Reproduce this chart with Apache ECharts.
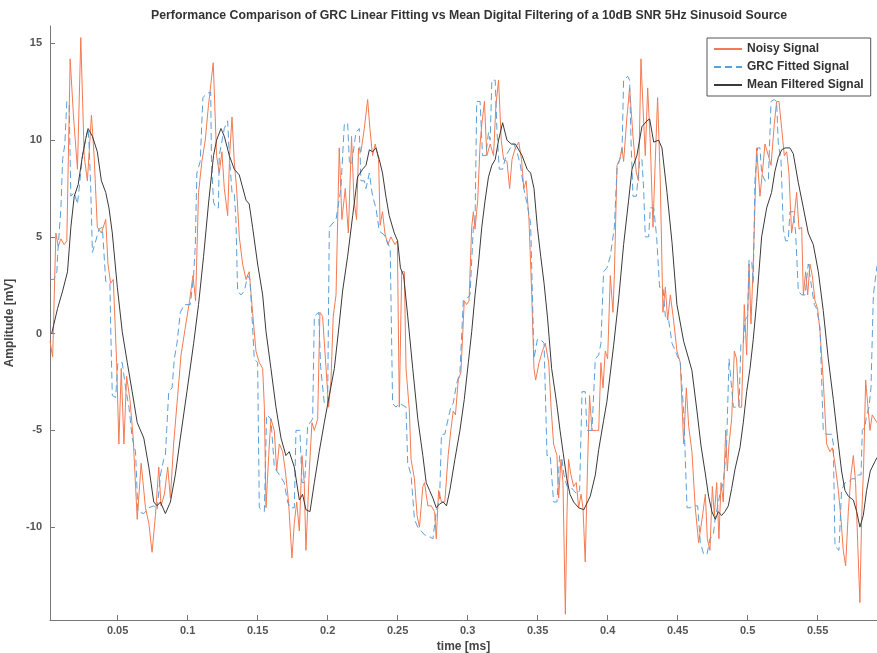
<!DOCTYPE html>
<html>
<head>
<meta charset="utf-8">
<title>GRC Linear Fitting vs Mean Digital Filtering</title>
<script src="https://cdn.jsdelivr.net/npm/echarts@6/dist/echarts.min.js"></script>
<style>
  html, body { margin: 0; padding: 0; background: #fff; }
  #main { width: 877px; height: 653px; }
</style>
</head>
<body>
<div id="main"></div>
<script>
// values: [time in ms, amplitude in mV]
const noisySignal = [
  [0.0017,-0.4],[0.0036,-1.2],[0.0059,5.2],[0.0076,4.5],[0.0095,4.9],[0.0118,4.6],[0.0137,4.8],[0.0161,14.2],
  [0.0185,11.2],[0.0213,8.5],[0.0237,15.3],[0.0261,9.2],[0.0284,7.9],[0.0313,11.3],[0.0332,9.2],[0.0355,5.5],
  [0.0384,5.2],[0.0415,5.9],[0.0431,3.6],[0.045,2.6],[0.0469,2.8],[0.0493,-1.5],[0.0509,-5.7],[0.0526,-1.8],
  [0.0545,-5.7],[0.0564,-2.2],[0.0588,-3.4],[0.0611,-5.4],[0.064,-9.6],[0.0668,-6.7],[0.0699,-9.0],[0.0723,-9.8],
  [0.0746,-11.3],[0.077,-9.4],[0.0794,-6.9],[0.081,-8.9],[0.0834,-8.3],[0.0858,-6.9],[0.0877,-8.5],[0.09,-5.7],
  [0.0929,-3.2],[0.0953,-1.1],[0.0983,0.3],[0.1014,1.7],[0.1038,3.0],[0.1057,1.7],[0.1078,7.3],[0.1102,8.9],
  [0.1126,10.0],[0.1149,11.8],[0.1183,14.0],[0.1207,9.2],[0.1226,8.3],[0.1245,9.4],[0.1262,7.5],[0.1286,6.1],
  [0.13,9.2],[0.1317,11.2],[0.1333,8.9],[0.135,7.5],[0.1369,5.0],[0.1393,3.6],[0.1417,2.8],[0.144,3.2],
  [0.1464,1.1],[0.1488,-0.9],[0.1512,-1.5],[0.1536,-1.8],[0.1548,-3.8],[0.156,-9.0],[0.1579,-6.3],[0.1595,-4.4],
  [0.1619,-5.0],[0.1636,-7.1],[0.1655,-5.7],[0.1679,-6.1],[0.1698,-7.1],[0.1721,-8.7],[0.1745,-11.6],[0.1762,-9.8],
  [0.1779,-8.7],[0.1798,-10.2],[0.1817,-6.3],[0.1833,-7.7],[0.1845,-11.2],[0.1869,-7.1],[0.1888,-4.6],[0.1905,-5.0],
  [0.1929,-4.4],[0.1945,1.1],[0.1964,0.9],[0.1988,-1.7],[0.2007,-3.8],[0.2024,-2.4],[0.204,0.9],[0.206,2.0],
  [0.2083,9.6],[0.2102,5.9],[0.2126,7.5],[0.2148,5.2],[0.2171,10.2],[0.2188,6.9],[0.2207,5.9],[0.2221,9.6],
  [0.2238,9.4],[0.2262,10.6],[0.2286,12.1],[0.2302,10.6],[0.2321,9.2],[0.234,9.8],[0.2364,9.0],[0.2375,5.6],
  [0.2392,6.3],[0.2409,5.2],[0.243,4.6],[0.2452,5.0],[0.2481,4.6],[0.2498,4.8],[0.2512,-3.8],[0.2529,3.2],
  [0.2548,3.2],[0.256,-1.8],[0.2584,-4.0],[0.2596,-6.5],[0.262,-7.5],[0.2639,-9.4],[0.2656,-10.0],[0.268,-7.9],
  [0.2692,-7.7],[0.2716,-8.9],[0.274,-8.9],[0.2764,-9.2],[0.2776,-10.6],[0.2793,-8.1],[0.2813,-8.7],[0.2837,-8.7],
  [0.2861,-6.3],[0.288,-5.0],[0.2897,-4.0],[0.2913,-4.2],[0.2933,-2.4],[0.2952,-2.0],[0.2976,1.7],[0.2993,1.5],
  [0.301,1.7],[0.3029,5.5],[0.3041,6.3],[0.3053,5.4],[0.3072,6.9],[0.3089,9.8],[0.3101,10.8],[0.312,12.0],
  [0.3137,9.2],[0.3161,9.8],[0.3185,9.2],[0.3202,11.8],[0.3221,13.1],[0.324,10.0],[0.3257,9.0],[0.3281,8.9],
  [0.33,7.5],[0.3317,9.0],[0.3341,9.6],[0.3365,9.9],[0.3385,9.0],[0.3401,7.5],[0.3418,7.9],[0.3438,5.9],
  [0.3457,2.2],[0.3474,-1.8],[0.3486,-2.4],[0.351,-1.5],[0.3534,-0.9],[0.3555,-0.5],[0.3579,-1.5],[0.3596,-3.8],
  [0.3614,-5.7],[0.3638,-6.3],[0.365,-8.5],[0.3667,-6.5],[0.3681,-7.7],[0.3698,-14.5],[0.371,-9.2],[0.3721,-6.5],
  [0.3738,-7.3],[0.3757,-7.9],[0.3776,-7.7],[0.3793,-9.0],[0.381,-8.3],[0.3824,-9.0],[0.384,-11.8],[0.3857,-6.7],
  [0.3871,-3.2],[0.3888,-5.0],[0.39,-5.0],[0.3919,-5.0],[0.3936,-5.0],[0.3952,-1.5],[0.3967,-2.8],[0.3983,-0.9],
  [0.4,-1.3],[0.4019,3.0],[0.4038,1.1],[0.4048,3.0],[0.4067,8.7],[0.4086,9.0],[0.4102,9.6],[0.4114,8.9],
  [0.4138,11.2],[0.4157,12.7],[0.4181,10.2],[0.4205,8.3],[0.4221,7.9],[0.4238,14.2],[0.4252,11.8],[0.4269,9.2],
  [0.4286,12.7],[0.4305,9.8],[0.4324,5.5],[0.434,8.9],[0.4357,12.2],[0.4376,7.9],[0.4395,1.1],[0.4412,2.4],
  [0.4429,0.7],[0.4448,2.0],[0.4471,0.7],[0.4495,-0.9],[0.4519,-1.5],[0.4543,-5.7],[0.4562,-2.8],[0.4579,-4.8],
  [0.4602,-6.1],[0.4626,-9.0],[0.465,-10.8],[0.4674,-9.6],[0.4698,-8.3],[0.4712,-10.6],[0.4731,-11.2],[0.4748,-7.9],
  [0.4762,-9.4],[0.4779,-7.7],[0.4795,-10.6],[0.481,-7.7],[0.4826,-8.7],[0.4843,-5.0],[0.4855,-7.1],[0.4867,-5.7],
  [0.4886,-4.4],[0.4905,-0.9],[0.4921,-1.3],[0.4938,-3.8],[0.4957,-3.8],[0.4976,1.5],[0.4993,-1.1],[0.501,3.6],
  [0.5024,0.5],[0.504,3.6],[0.5064,9.6],[0.5088,7.1],[0.5105,8.3],[0.5124,9.8],[0.5148,9.2],[0.5167,8.7],
  [0.519,10.8],[0.5207,12.0],[0.5224,12.0],[0.5243,10.6],[0.5262,9.2],[0.5279,9.4],[0.5295,8.3],[0.5314,5.2],
  [0.5333,6.1],[0.535,7.3],[0.5367,5.4],[0.5386,5.5],[0.5398,2.0],[0.5414,3.2],[0.5429,2.0],[0.5445,3.6],
  [0.5462,3.0],[0.5481,1.7],[0.55,1.3],[0.5517,0.1],[0.554,-2.4],[0.5564,-5.7],[0.5588,-6.1],[0.5605,-5.9],
  [0.5624,-6.7],[0.5648,-8.1],[0.5667,-9.6],[0.5683,-11.2],[0.57,-12.0],[0.5719,-9.2],[0.5738,-7.3],[0.5755,-6.3],
  [0.5771,-7.7],[0.5786,-10.8],[0.5802,-13.9],[0.5814,-9.6],[0.5829,-6.7],[0.5843,-2.4],[0.5857,-3.6],[0.5874,-5.0],
  [0.589,-4.2],[0.5924,-4.6]
];

const grcFitted = [
  [0.0017,2.8],[0.0045,2.8],[0.0066,3.2],[0.0071,4.0],[0.0095,6.5],[0.0107,9.0],[0.0123,9.8],[0.0137,12.0],
  [0.0154,11.8],[0.0166,7.1],[0.019,7.3],[0.0213,6.7],[0.0225,7.5],[0.0249,9.2],[0.0273,10.1],[0.0289,10.6],
  [0.0296,9.8],[0.0308,7.5],[0.032,4.2],[0.0344,4.8],[0.0367,5.4],[0.0391,5.5],[0.0415,2.7],[0.0445,2.6],
  [0.045,0.5],[0.0462,-3.2],[0.0486,-3.3],[0.0502,-1.5],[0.0533,-1.5],[0.0557,-2.8],[0.0581,-3.8],[0.0604,-5.4],
  [0.0628,-6.1],[0.0645,-9.2],[0.0687,-9.3],[0.0723,-9.0],[0.0758,-8.9],[0.0782,-9.1],[0.0806,-7.3],[0.0829,-6.5],
  [0.0841,-6.3],[0.0865,-3.0],[0.0889,-2.8],[0.0905,-1.3],[0.0924,-0.5],[0.0948,1.1],[0.0976,1.5],[0.1019,1.5],
  [0.1043,3.0],[0.1055,4.6],[0.1066,8.3],[0.109,8.9],[0.1109,12.2],[0.1137,12.4],[0.1165,12.5],[0.117,9.0],
  [0.1185,6.8],[0.1202,6.5],[0.122,6.5],[0.1226,9.2],[0.1262,10.6],[0.1286,11.0],[0.1298,9.2],[0.1317,7.3],
  [0.1333,7.3],[0.1345,5.9],[0.1357,2.2],[0.1381,2.0],[0.1405,2.2],[0.1429,3.0],[0.1445,2.8],[0.146,0.9],
  [0.1476,-1.3],[0.15,-1.5],[0.1512,-9.0],[0.1548,-9.2],[0.1564,-4.2],[0.1595,-4.4],[0.1619,-6.9],[0.1655,-7.3],
  [0.169,-7.7],[0.1714,-8.7],[0.1731,-9.0],[0.1762,-9.0],[0.1774,-5.0],[0.1802,-5.0],[0.1817,-7.7],[0.1836,-7.7],
  [0.1857,-4.8],[0.1893,-4.4],[0.1905,0.9],[0.1936,1.1],[0.195,-1.7],[0.1976,-3.6],[0.2,-3.6],[0.2012,5.5],
  [0.206,5.9],[0.2095,7.5],[0.2119,10.8],[0.2143,10.9],[0.2155,8.9],[0.2171,8.7],[0.2202,10.4],[0.2226,10.6],
  [0.2238,7.9],[0.2262,7.9],[0.2274,7.5],[0.2298,8.3],[0.2321,7.1],[0.2345,6.5],[0.2369,5.3],[0.2404,5.1],
  [0.2447,4.4],[0.2464,-3.6],[0.2488,-3.8],[0.2512,-3.6],[0.256,-3.8],[0.2572,-6.7],[0.2596,-7.3],[0.262,-9.6],
  [0.2644,-10.0],[0.2668,-10.2],[0.2692,-10.4],[0.2728,-10.5],[0.2752,-10.6],[0.2776,-9.2],[0.28,-8.5],[0.2813,-5.2],
  [0.2837,-5.2],[0.2861,-4.4],[0.288,-3.8],[0.2897,-3.6],[0.2921,-2.6],[0.2945,-2.0],[0.2969,1.7],[0.2993,1.8],
  [0.3017,2.0],[0.3041,5.5],[0.3053,5.9],[0.3065,12.0],[0.3089,12.0],[0.3106,9.2],[0.313,9.2],[0.3149,10.4],
  [0.3161,10.0],[0.3173,13.1],[0.3197,13.1],[0.321,10.4],[0.3226,8.5],[0.325,8.5],[0.3274,9.2],[0.3305,9.6],
  [0.3329,9.8],[0.3353,9.4],[0.3377,8.7],[0.3401,7.5],[0.3425,6.7],[0.345,5.7],[0.3474,-1.3],[0.3498,-0.3],
  [0.3522,-0.3],[0.3546,-0.5],[0.3567,-6.3],[0.359,-6.3],[0.3614,-8.7],[0.3638,-8.7],[0.3657,-6.3],[0.3674,-6.5],
  [0.3688,-7.3],[0.371,-7.9],[0.3733,-7.9],[0.3757,-8.1],[0.3781,-8.3],[0.38,-8.1],[0.3817,-3.0],[0.384,-3.0],
  [0.3852,-5.0],[0.3888,-5.0],[0.3912,-1.3],[0.3936,-1.1],[0.3952,-0.5],[0.3971,3.2],[0.3995,3.4],[0.4019,4.0],
  [0.4048,5.5],[0.4067,8.5],[0.4086,9.0],[0.4102,9.2],[0.4114,13.1],[0.4143,13.3],[0.4157,13.1],[0.4167,10.0],
  [0.4181,7.1],[0.4205,7.1],[0.4229,9.0],[0.4245,9.0],[0.4257,7.5],[0.4269,5.0],[0.4293,5.0],[0.4305,6.5],
  [0.4329,6.5],[0.435,5.0],[0.4371,2.4],[0.4395,2.4],[0.4412,0.9],[0.4436,0.7],[0.446,-0.5],[0.4495,-1.1],
  [0.4519,-1.5],[0.4543,-4.0],[0.4567,-9.0],[0.459,-9.0],[0.4614,-8.9],[0.4643,-8.9],[0.4662,-10.8],[0.4686,-11.4],
  [0.471,-11.4],[0.4731,-10.6],[0.4755,-10.4],[0.4767,-9.6],[0.4786,-8.9],[0.4802,-8.3],[0.4826,-7.7],[0.485,-5.7],
  [0.4867,-1.3],[0.4881,-1.3],[0.4898,-3.8],[0.4938,-3.8],[0.4952,-0.5],[0.4969,-0.5],[0.4981,0.7],[0.5,0.9],
  [0.501,3.8],[0.5029,3.8],[0.504,2.6],[0.5052,7.9],[0.5071,9.6],[0.5088,9.6],[0.51,8.3],[0.5124,7.9],
  [0.5148,7.9],[0.5167,12.0],[0.519,12.1],[0.5207,12.0],[0.5219,9.8],[0.5238,9.0],[0.5255,5.4],[0.5271,4.8],
  [0.529,4.8],[0.5302,6.3],[0.5326,6.3],[0.5343,5.2],[0.5362,2.2],[0.5386,2.0],[0.541,2.0],[0.5433,3.6],
  [0.5445,3.6],[0.5457,2.4],[0.5476,1.5],[0.5493,1.3],[0.5517,0.3],[0.554,-5.0],[0.5564,-5.2],[0.56,-5.2],
  [0.5612,-5.7],[0.5624,-11.0],[0.5652,-11.2],[0.5671,-8.1],[0.5695,-7.7],[0.5719,-7.7],[0.5743,-7.5],[0.5767,-7.5],
  [0.579,-7.3],[0.581,-7.3],[0.5819,-5.0],[0.5838,-4.8],[0.585,-4.2],[0.5867,-3.8],[0.5881,-2.8],[0.5898,2.0],
  [0.5924,3.5]
];

const meanFiltered = [
  [0.0029,0],[0.0071,1.3],[0.0107,2.2],[0.0142,3.2],[0.0166,5.5],[0.019,7.1],[0.0218,7.7],[0.0249,9.2],
  [0.0273,10.1],[0.0289,10.6],[0.032,10.2],[0.0355,9.4],[0.0384,7.9],[0.0415,7.3],[0.0438,6.5],[0.0462,5.2],
  [0.0498,2.4],[0.0533,0.1],[0.0569,-1.5],[0.0604,-3.0],[0.064,-4.6],[0.0687,-5.4],[0.0723,-6.9],[0.0758,-8.7],
  [0.0782,-8.9],[0.0806,-8.7],[0.0841,-9.3],[0.0877,-8.7],[0.0912,-7.3],[0.0948,-5.4],[0.0995,-3.0],[0.1043,-0.5],
  [0.1078,1.5],[0.1114,4.0],[0.1149,6.7],[0.1185,9.2],[0.1207,10.0],[0.1238,10.6],[0.1262,10.2],[0.1298,9.2],
  [0.1333,8.5],[0.1369,8.2],[0.1417,6.9],[0.144,6.7],[0.1464,5.5],[0.15,3.6],[0.1536,2.0],[0.156,0.1],
  [0.1595,-1.8],[0.1631,-3.8],[0.1667,-5.4],[0.1702,-6.3],[0.1726,-6.1],[0.1762,-6.9],[0.1798,-8.6],[0.1821,-8.3],
  [0.1845,-9.1],[0.1874,-9.2],[0.1905,-7.7],[0.194,-6.1],[0.1976,-4.6],[0.2012,-3.2],[0.2048,-1.8],[0.2083,0.5],
  [0.2107,2.2],[0.2143,4.0],[0.2179,6.1],[0.2214,8.1],[0.225,8.5],[0.2274,8.7],[0.2298,9.5],[0.2321,9.4],
  [0.2345,9.6],[0.2369,9.0],[0.2392,8.3],[0.2416,7.1],[0.244,6.1],[0.2476,5.2],[0.25,4.8],[0.252,3.4],
  [0.2543,3.0],[0.2572,0.9],[0.2608,-1.8],[0.2644,-4.4],[0.268,-6.3],[0.2704,-7.7],[0.2728,-8.1],[0.2752,-8.5],
  [0.2776,-9.0],[0.28,-8.8],[0.2825,-8.7],[0.2849,-8.9],[0.2873,-8.1],[0.2909,-6.5],[0.2945,-5.0],[0.2976,-3.4],
  [0.3005,-1.5],[0.3029,0.1],[0.3053,2.0],[0.3077,3.6],[0.3101,5.5],[0.3125,6.9],[0.3149,8.1],[0.3173,8.7],
  [0.3197,9.0],[0.3221,10.0],[0.325,10.9],[0.3281,10.0],[0.3312,9.8],[0.3341,9.8],[0.3365,9.5],[0.3389,9.2],
  [0.3425,8.5],[0.345,8.3],[0.3474,7.5],[0.3498,5.5],[0.3522,4.0],[0.3546,2.6],[0.3571,0.8],[0.36,-1.8],
  [0.3636,-3.6],[0.366,-5.0],[0.3683,-6.2],[0.3708,-7.5],[0.3731,-8.3],[0.3757,-8.7],[0.3793,-9.0],[0.383,-9.1],
  [0.3876,-8.4],[0.3912,-7.3],[0.3936,-6.0],[0.3971,-4.5],[0.3995,-3.5],[0.4043,-0.6],[0.4079,1.8],[0.4114,4.6],
  [0.415,6.9],[0.4174,8.5],[0.4209,9.2],[0.4245,10.7],[0.4281,11.0],[0.43,11.1],[0.4329,9.9],[0.4364,10.0],
  [0.4388,9.6],[0.4424,7.3],[0.446,4.7],[0.4495,1.5],[0.4543,-0.4],[0.4567,-1.0],[0.4602,-1.9],[0.4638,-4.0],
  [0.4667,-5.8],[0.4697,-7.2],[0.4721,-8.4],[0.4745,-9.2],[0.4769,-9.6],[0.479,-9.2],[0.4814,-9.4],[0.4838,-9.2],
  [0.4862,-8.9],[0.4886,-8.0],[0.491,-7.0],[0.4945,-5.9],[0.4969,-4.6],[0.4993,-3.0],[0.5017,-1.8],[0.504,-0.3],
  [0.5064,1.6],[0.51,5.0],[0.5136,6.5],[0.5171,7.3],[0.5195,8.4],[0.5219,9.1],[0.5243,9.5],[0.5267,9.6],
  [0.5302,9.6],[0.5326,9.3],[0.5362,7.8],[0.5398,6.5],[0.5433,5.2],[0.5469,4.6],[0.5505,3.2],[0.554,1.2],
  [0.5576,-1.3],[0.5612,-3.4],[0.5648,-5.7],[0.5671,-7.1],[0.5695,-8.1],[0.5719,-8.4],[0.5755,-8.6],[0.5779,-9.2],
  [0.5802,-10.0],[0.5826,-9.4],[0.585,-8.1],[0.5876,-7.1],[0.591,-6.6],[0.5924,-6.4]
];

// tick labels
const timeTicks = [0.05, 0.1, 0.15, 0.2, 0.25, 0.3, 0.35, 0.4, 0.45, 0.5, 0.55];
const ampTicks = [-10, -5, 0, 5, 10, 15];

const FONT = "'Liberation Sans', Arial, Helvetica, sans-serif";

var chartDom = document.getElementById("main");
var myChart = echarts.init(chartDom, null, { renderer: "canvas" });

var option = {
  animation: false,
  backgroundColor: "#ffffff",
  title: {
    text: "Performance Comparison of GRC Linear Fitting vs Mean Digital Filtering of a 10dB SNR 5Hz Sinusoid Source",
    left: 146,
    top: 5,
    textStyle: { fontFamily: FONT, fontSize: 12.3, fontWeight: "bold", color: "#333" }
  },
  legend: {
    orient: "vertical",
    left: 707,
    top: 38,
    itemWidth: 28,
    itemHeight: 11,
    itemGap: 6,
    padding: [5, 7, 5, 6],
    borderColor: "#555",
    borderWidth: 1,
    backgroundColor: "#fff",
    itemStyle: { opacity: 0 },
    textStyle: { fontFamily: FONT, fontSize: 12, fontWeight: "bold", color: "#333" },
    data: ["Noisy Signal", "GRC Fitted Signal", "Mean Filtered Signal"]
  },
  grid: {
    left: 50,
    right: 0,
    top: 26,
    bottom: 33,
    outerBoundsMode: "none"
  },
  xAxis: {
    type: "value",
    min: 0.0017,
    max: 0.5924,
    name: "time [ms]",
    nameLocation: "middle",
    nameGap: 19,
    nameTextStyle: { fontFamily: FONT, fontSize: 12, fontWeight: "bold", color: "#444" },
    axisLine: { onZero: false, lineStyle: { color: "#777", width: 1 } },
    axisTick: { show: true, inside: true, length: 5, customValues: timeTicks, lineStyle: { color: "#777" } },
    axisLabel: {
      customValues: timeTicks,
      margin: 5,
      fontFamily: FONT, fontSize: 11, fontWeight: "bold", color: "#555"
    },
    splitLine: { show: false }
  },
  yAxis: {
    type: "value",
    min: -14.8,
    max: 15.9,
    name: "Amplitude [mV]",
    nameLocation: "middle",
    nameGap: 30,
    nameTextStyle: { fontFamily: FONT, fontSize: 12, fontWeight: "bold", color: "#444" },
    axisLine: { show: true, onZero: false, lineStyle: { color: "#777", width: 1 } },
    axisTick: { show: true, inside: true, length: 5, customValues: ampTicks, lineStyle: { color: "#777" } },
    axisLabel: {
      customValues: ampTicks,
      margin: 8,
      fontFamily: FONT, fontSize: 11, fontWeight: "bold", color: "#555"
    },
    splitLine: { show: false }
  },
  series: [
    {
      name: "Noisy Signal",
      type: "line",
      data: noisySignal,
      symbol: "none",
      lineStyle: { color: "#f47a52", width: 1 },
      itemStyle: { color: "#f47a52" }
    },
    {
      name: "GRC Fitted Signal",
      type: "line",
      data: grcFitted,
      symbol: "none",
      lineStyle: { color: "#5b9fd9", width: 1, type: [7, 4] },
      itemStyle: { color: "#5b9fd9" }
    },
    {
      name: "Mean Filtered Signal",
      type: "line",
      data: meanFiltered,
      symbol: "none",
      lineStyle: { color: "#3a3a3a", width: 1 },
      itemStyle: { color: "#3a3a3a" }
    }
  ]
};

myChart.setOption(option);
</script>
</body>
</html>
